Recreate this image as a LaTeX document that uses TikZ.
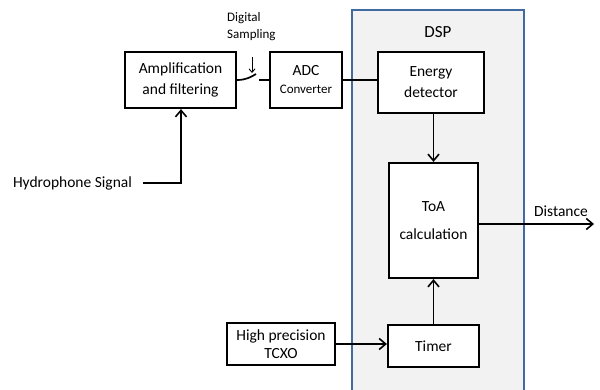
\documentclass[tikz,border=0pt]{standalone}
\usepackage{fontspec}
\setmainfont{Carlito}
\usetikzlibrary{arrows.meta}
\definecolor{dspfill}{RGB}{242,242,242}
\definecolor{dspline}{RGB}{65,107,160}
\begin{document}
\begin{tikzpicture}[x=1pt,y=-1pt,
  block/.style={draw=black,line width=2.2pt,fill=white,align=center,inner sep=0pt,font=\fontsize{15.5}{21}\selectfont},
  conn/.style={line width=1.7pt},
  arr/.style={conn,-{Straight Barb[length=6.5pt,width=11pt,line width=1.6pt]}}]
\useasboundingbox (0,0) rectangle (600,390);
% DSP enclosure (open at the bottom edge of the page)
\fill[dspfill] (352,10) rectangle (524,395);
\draw[dspline,line width=1.7pt] (352,395) -- (352,10) -- (524,10) -- (524,395);
\node[font=\fontsize{17}{19}\selectfont] (dsp) at (438,32) {DSP};
% blocks
\node[block,minimum width=111pt,minimum height=56pt] (amp) at (180.5,80) {Amplification\\and filtering};
\node[block,minimum width=72pt,minimum height=56pt] (adc) at (306,80) {ADC\\[-3pt]{\fontsize{13}{15}\selectfont Converter}};
\node[block,minimum width=106pt,minimum height=61pt] (energy) at (431,82.5) {Energy\\detector};
\node[block,minimum width=89pt,minimum height=115pt] (toa) at (433.5,220.5) {ToA\\[7pt]calculation};
\node[block,minimum width=91pt,minimum height=42pt] (timer) at (433.5,346) {Timer};
\node[block,minimum width=108pt,minimum height=42pt,font=\fontsize{15.5}{18}\selectfont] (tcxo) at (281,344) {High precision\\TCXO};
% free labels
\node[font=\fontsize{15.5}{18}\selectfont] (hydro) at (72.5,183) {Hydrophone Signal};
\node[font=\fontsize{13}{17}\selectfont,align=left,anchor=north west,inner sep=0pt] (samp) at (227,12) {Digital\\Sampling};
\node[font=\fontsize{15.5}{18}\selectfont] (dist) at (561,211) {Distance};
% named free ends
\coordinate (hstart) at (143,183);
\coordinate (hcorner) at (181,183);
\coordinate (swtip) at (256,74);
\coordinate (swpost) at (259,80);
\coordinate (swtop) at (252,57);
\coordinate (swbot) at (252,73);
\coordinate (distend) at (594,224);
% connectors
\draw[arr] (hstart) -- (hcorner) -- (amp.south -| hcorner);
\draw[conn] (amp.east) .. controls (246,80) and (251,77) .. (swtip);
\draw[conn] (swpost) -- (adc.west);
\draw[line width=0.9pt,-{Straight Barb[length=3.5pt,width=6pt,line width=0.9pt]}] (swtop) -- (swbot);
\draw[conn] (adc.east) -- (energy.west |- adc.east);
\draw[arr] (energy.south -| toa.north) -- (toa.north);
\draw[arr] (toa.east |- distend) -- (distend);
\draw[arr] (timer.north) -- (toa.south);
\draw[arr] (tcxo.east) -- (timer.west |- tcxo.east);
\end{tikzpicture}
\end{document}
